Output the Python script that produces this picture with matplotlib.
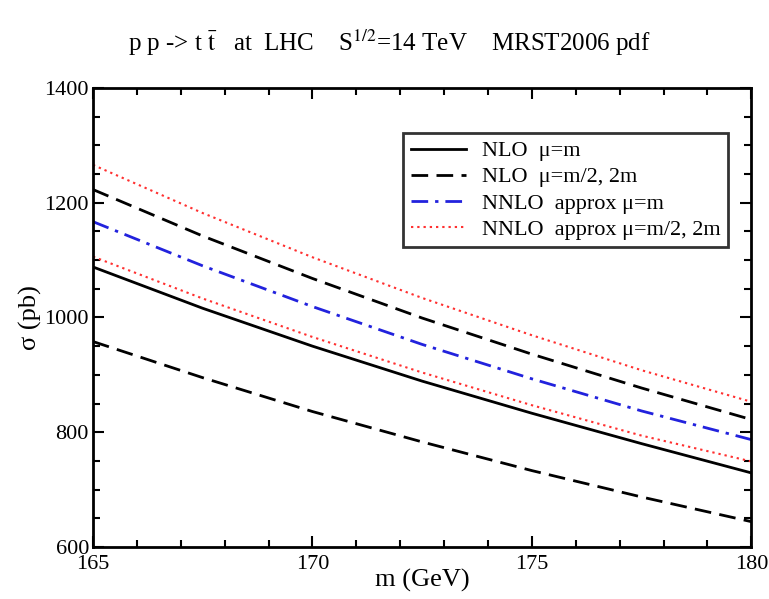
import matplotlib
matplotlib.use('Agg')
import matplotlib.pyplot as plt
from matplotlib.ticker import MultipleLocator

plt.rcParams['font.family'] = ['Liberation Serif', 'DejaVu Serif']
plt.rcParams['mathtext.fontset'] = 'stix'

# data (pb)
mass = [165, 167.5, 170, 172.5, 175, 177.5, 180]
nlo_m = [1088, 1016, 950, 889, 833, 780, 729]
nlo_lo = [958, 895, 836, 783, 733, 687, 644]
nlo_hi = [1223, 1142, 1068, 999, 936, 877, 822]
nnlo_m = [1167, 1090, 1019, 953, 893, 837, 787]
nnlo_lo = [1106, 1033, 966, 904, 847, 794, 749]
nnlo_hi = [1266, 1182, 1105, 1034, 969, 908, 853]

fig = plt.figure(figsize=(7.69, 5.99), dpi=100)
ax = fig.add_axes([0.121, 0.087, 0.856, 0.766])

ax.plot(mass, nlo_m, color='black', lw=2, label='NLO  μ=m')
ax.plot(mass, nlo_lo, color='black', lw=2, dashes=(6, 3), label='NLO  μ=m/2, 2m')
ax.plot(mass, nlo_hi, color='black', lw=2, dashes=(6, 3))
ax.plot(mass, nnlo_m, color='#2222dd', lw=2, dashes=(6, 2.5, 1.2, 2.5), label='NNLO  approx μ=m')
ax.plot(mass, nnlo_lo, color='#ff3030', lw=1.5, dashes=(1.1, 1.9), label='NNLO  approx μ=m/2, 2m')
ax.plot(mass, nnlo_hi, color='#ff3030', lw=1.5, dashes=(1.1, 1.9))

ax.set_xlim(165, 180)
ax.set_ylim(600, 1400)
ax.xaxis.set_major_locator(MultipleLocator(5))
ax.xaxis.set_minor_locator(MultipleLocator(1))
ax.yaxis.set_major_locator(MultipleLocator(200))
ax.yaxis.set_minor_locator(MultipleLocator(50))
ax.tick_params(which='both', direction='in', top=True, right=True, width=1.5, labelsize=16)
ax.tick_params(axis='y', pad=3)
ax.tick_params(axis='x', pad=6)
ax.tick_params(which='major', length=8)
ax.tick_params(which='minor', length=5)
for s in ax.spines.values():
    s.set_linewidth(2)

ax.set_xlabel('m (GeV)', fontsize=19, labelpad=-4)
ax.set_ylabel('σ (pb)', fontsize=19, labelpad=2)

fig.text(0.507, 0.928, r'p p -> t $\bar{\mathrm{t}}$   at  LHC    S$^{1/2}$=14 TeV    MRST2006 pdf',
         ha='center', va='center', fontsize=18)

leg = ax.legend(loc='upper left', bbox_to_anchor=(0.471, 0.902), fontsize=16,
                frameon=True, fancybox=False, handlelength=2.5, handletextpad=0.7,
                labelspacing=0.25, borderpad=0.35, borderaxespad=0)
leg.get_frame().set_edgecolor('black')
leg.get_frame().set_linewidth(2)

fig.savefig('out.png', dpi=100)
